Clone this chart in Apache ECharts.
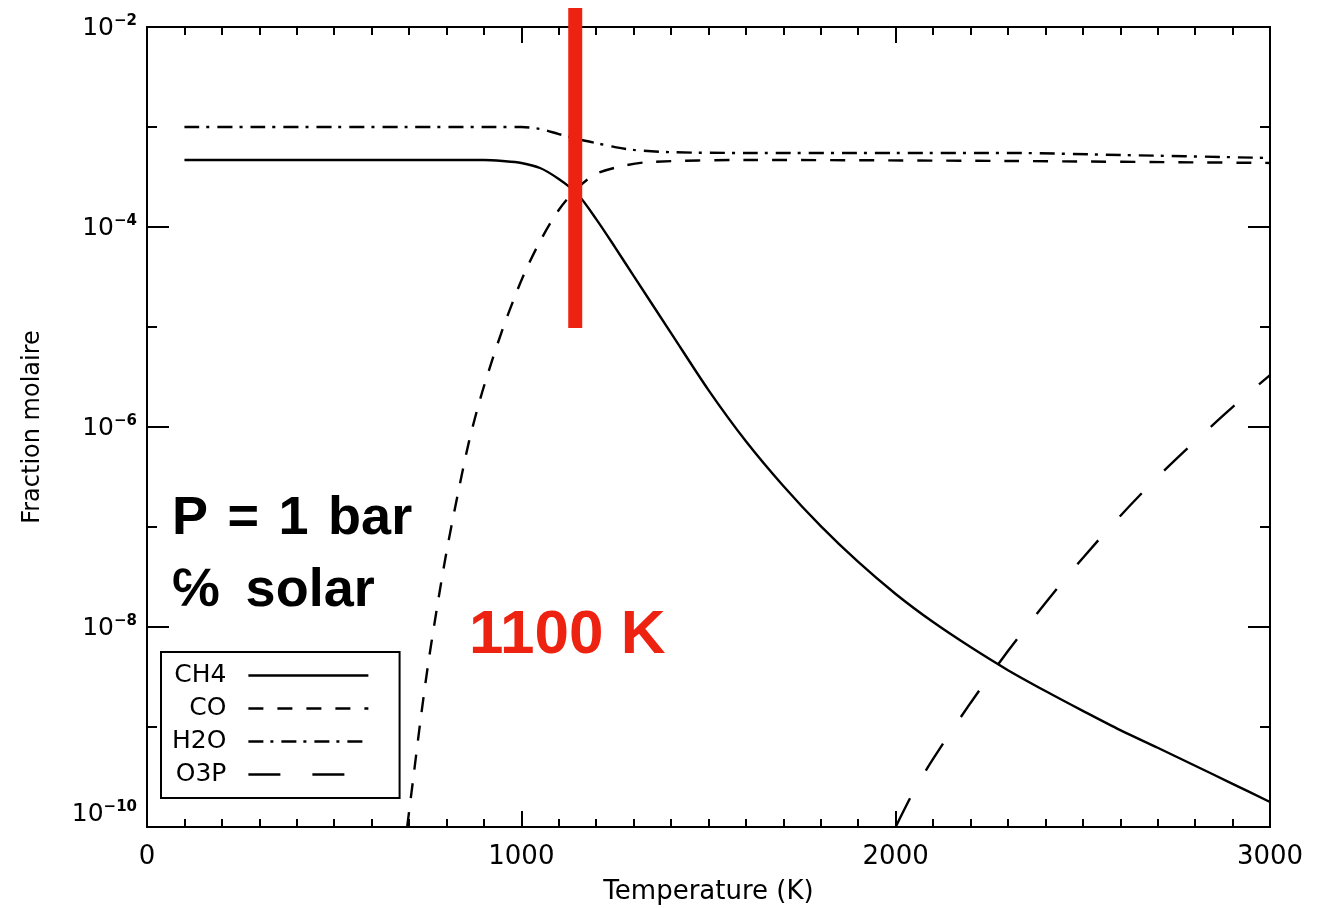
<!DOCTYPE html>
<html>
<head>
<meta charset="utf-8">
<title>Fraction molaire</title>
<script src="https://cdn.jsdelivr.net/npm/echarts@6/dist/echarts.min.js"></script>
<style>
  html, body { margin: 0; padding: 0; background: #fff; }
  #main { width: 1326px; height: 908px; }
</style>
</head>
<body>
<div id="main"></div>
<script>
// temperatures (K) and mole fractions
var ch4T = [100, 300, 500, 700, 900, 950, 1000, 1050, 1100, 1150, 1200, 1250, 1300, 1400, 1500, 1600, 1700, 1800, 1900, 2000, 2100, 2200, 2300, 2400, 2500, 2600, 2700, 2800, 2900, 3000];
var ch4 = [4.68e-4, 4.68e-4, 4.68e-4, 4.68e-4, 4.68e-4, 4.57e-4, 4.37e-4, 3.89e-4, 3.02e-4, 2.14e-4, 1.20e-4, 6.3e-5, 3.24e-5, 8.7e-6, 2.34e-6, 7.2e-7, 2.57e-7, 1.02e-7, 4.47e-8, 2.14e-8, 1.12e-8, 6.3e-9, 3.7e-9, 2.29e-9, 1.45e-9, 9.3e-10, 6.2e-10, 4.1e-10, 2.7e-10, 1.78e-10];

var coT = [695, 710, 730, 750, 775, 800, 830, 860, 890, 920, 950, 980, 1010, 1050, 1100, 1150, 1200, 1270, 1345, 1600, 2300, 3000];
var co = [1e-10, 2.8e-10, 1.12e-9, 4.0e-9, 1.58e-8, 5.6e-8, 2.1e-7, 7.1e-7, 1.9e-6, 4.4e-6, 9.5e-6, 1.9e-5, 3.55e-5, 7.2e-5, 1.48e-4, 2.45e-4, 3.4e-4, 4.07e-4, 4.47e-4, 4.68e-4, 4.57e-4, 4.37e-4];

var h2oT = [100, 300, 500, 700, 900, 1000, 1050, 1100, 1150, 1200, 1250, 1300, 1400, 1600, 2000, 2300, 2600, 3000];
var h2o = [1.0e-3, 1.0e-3, 1.0e-3, 1.0e-3, 1.0e-3, 1.0e-3, 9.55e-4, 8.5e-4, 7.6e-4, 6.9e-4, 6.3e-4, 5.9e-4, 5.6e-4, 5.5e-4, 5.5e-4, 5.5e-4, 5.25e-4, 4.9e-4];

var o3pT = [2000, 2050, 2100, 2200, 2300, 2400, 2500, 2600, 2700, 2800, 2900, 3000];
var o3p = [1e-10, 2.34e-10, 4.8e-10, 1.74e-9, 5.75e-9, 1.74e-8, 4.9e-8, 1.29e-7, 3.16e-7, 7.2e-7, 1.58e-6, 3.3e-6];

// hand drawn red stroke at ~1100 K
var markT = [1144, 1144];
var markY = [1.55e-2, 9.8e-6];

var names = ['CH4', 'CO', 'H2O', 'O3P'];
var dashes = ['solid', [15, 14], [15, 7, 3, 8], [32, 32]];

var font = '"DejaVu Sans", sans-serif';
var bold = 'bold 54px "Liberation Sans", Arial, sans-serif';
var red = '#ee2211';

function pairs(xs, ys) {
    return xs.map(function (x, i) { return [x, ys[i]]; });
}

var curves = [[ch4T, ch4], [coT, co], [h2oT, h2o], [o3pT, o3p]];

var series = curves.map(function (c, i) {
    return {
        name: names[i],
        type: 'line',
        data: pairs(c[0], c[1]),
        symbol: 'none',
        smooth: 0.3,
        color: '#000',
        lineStyle: { color: '#000', width: 2.4, type: dashes[i] }
    };
});
series.push({
    name: 'marque',
    type: 'line',
    data: pairs(markT, markY),
    symbol: 'none',
    clip: false,
    z: 5,
    silent: true,
    lineStyle: { color: red, width: 14, cap: 'butt' }
});

function xAxis(pos, labels) {
    return {
        type: 'value', position: pos, min: 0, max: 3000, interval: 1000,
        axisLine: { lineStyle: { color: '#000', width: 2 } },
        axisTick: { inside: true, length: 16, lineStyle: { color: '#000', width: 2 } },
        minorTick: { show: true, splitNumber: 10, length: 8, lineStyle: { color: '#000', width: 2 } },
        splitLine: { show: false },
        axisLabel: {
            show: labels, fontFamily: font, fontSize: 26, color: '#000', margin: 17,
            formatter: function (v) { return String(v); }
        },
        name: labels ? 'Temperature (K)' : '',
        nameLocation: 'middle', nameGap: 52,
        nameTextStyle: { fontFamily: font, fontSize: 26, color: '#000' }
    };
}

function yAxis(pos, major, labels) {
    return {
        type: 'log', logBase: 10, position: pos, min: 1e-10, max: 1e-2,
        interval: major ? 2 : 1, splitNumber: major ? 4 : 8,
        axisLine: { lineStyle: { color: '#000', width: 2 } },
        axisTick: { inside: true, length: major ? 22 : 10, lineStyle: { color: '#000', width: 2 } },
        splitLine: { show: false },
        axisLabel: {
            show: labels, margin: 10,
            verticalAlignMaxLabel: 'top', verticalAlignMinLabel: 'bottom',
            formatter: function (v) {
                var e = Math.round(Math.log10(v));
                return '{b|10}{s|\u2212' + Math.abs(e) + '}';
            },
            rich: {
                b: { fontFamily: font, fontSize: 25, color: '#000', lineHeight: 27, verticalAlign: 'bottom' },
                s: { fontFamily: font, fontSize: 15, fontWeight: 'bold', color: '#000', lineHeight: 15, verticalAlign: 'top' }
            }
        },
        name: labels ? 'Fraction molaire' : '',
        nameLocation: 'middle', nameGap: 102,
        nameTextStyle: { fontFamily: font, fontSize: 24, color: '#000' }
    };
}

var chart = echarts.init(document.getElementById('main'));
chart.setOption({
    animation: false,
    backgroundColor: '#fff',
    grid: { left: 147, right: 56, top: 27, bottom: 81, containLabel: false, outerBoundsMode: 'none' },
    xAxis: [xAxis('bottom', true), xAxis('top', false)],
    yAxis: [yAxis('left', true, true), yAxis('left', false, false), yAxis('right', true, false), yAxis('right', false, false)],
    legend: {
        data: names,
        orient: 'vertical', left: 161, top: 652, align: 'right',
        itemWidth: 120, itemHeight: 14, itemGap: 8,
        padding: [11, 30, 11, 11],
        borderColor: '#000', borderWidth: 2,
        selectedMode: false,
        itemStyle: { opacity: 0 },
        lineStyle: { width: 2.4 },
        textStyle: { fontFamily: font, fontSize: 25, color: '#000', lineHeight: 24, padding: [0, 17, 0, 0] }
    },
    graphic: [
        { type: 'text', x: 172, y: 519, style: { text: 'P \u200a=\u200a 1 \u200abar', font: bold, fill: '#000', verticalAlign: 'middle' } },
        { type: 'text', x: 172, y: 591, style: { text: '\u2105 \u2009solar', font: bold, fill: '#000', verticalAlign: 'middle' } },
        { type: 'text', x: 469, y: 636, style: { text: '1100 K', font: 'bold 62px "Liberation Sans", Arial, sans-serif', fill: red, verticalAlign: 'middle' } }
    ],
    series: series
});
</script>
</body>
</html>
